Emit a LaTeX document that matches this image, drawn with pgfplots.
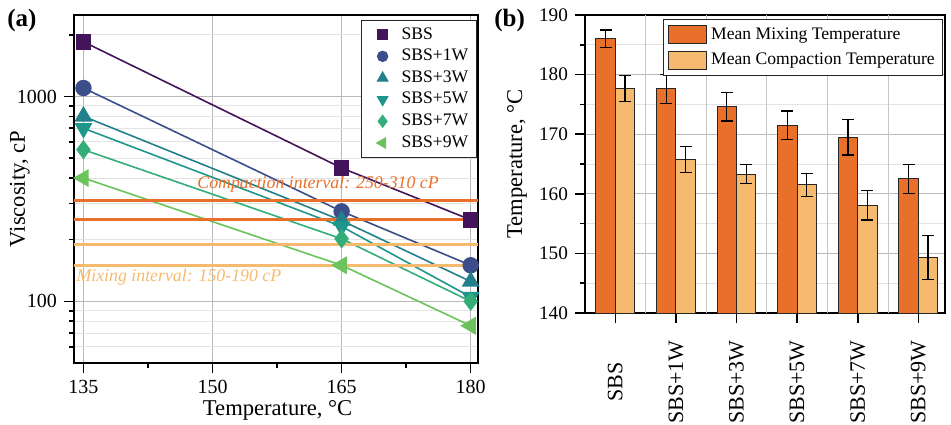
\documentclass[border=0pt]{standalone}
\usepackage{fontspec}
\setmainfont{Liberation Serif}
\usepackage{pgfplots}
\pgfplotsset{compat=1.18}

\definecolor{cS}{HTML}{43145A}
\definecolor{cA}{HTML}{3B4E8A}
\definecolor{cB}{HTML}{21808A}
\definecolor{cC}{HTML}{1F968B}
\definecolor{cD}{HTML}{33AE78}
\definecolor{cE}{HTML}{6CC35C}
\definecolor{cMix}{HTML}{E9702B}
\definecolor{cComp}{HTML}{F6BA6E}

\pgfplotsset{
  common/.style={
    scale only axis,
    axis line style={line width=1pt},
    tick align=outside, tick pos=left,
    major tick length=5pt, minor tick length=2.5pt,
    every tick/.style={black, line width=0.8pt},
    /pgf/number format/assume math mode=true,
    tick label style={font=\fontsize{10}{12}\selectfont},
    label style={font=\fontsize{11.3}{13}\selectfont},
    major grid style={gray!55, line width=0.5pt},
    minor grid style={gray!22, line width=0.5pt},
  }
}

\begin{document}
\begin{tikzpicture}
\useasboundingbox (-37pt,-30.5pt) rectangle (438.5pt,181.5pt);

% (a) viscosity against temperature
\begin{axis}[common,
  name=left, at={(0pt,0pt)}, anchor=south west,
  width=202pt, height=174pt,
  xmin=133.9, xmax=180.85,
  ymode=log, ymin=50, ymax=2500,
  xtick={135,150,165,180},
  minor xtick={142.5,157.5,172.5},
  ytick={100,1000}, yticklabels={100,1000},
  minor ytick={60,70,80,90,200,300,400,500,600,700,800,900,2000},
  xmajorgrids, ymajorgrids, yminorgrids,
  xlabel={Temperature, °C}, ylabel={Viscosity, cP},
  xlabel style={at={(axis description cs:0.504,-0.135)}, anchor=center},
  ylabel style={at={(axis description cs:-0.134,0.5)}, anchor=center},
  legend style={at={(0.997,0.986)}, anchor=north east,
    font=\fontsize{8.8}{10}\selectfont, draw=black!85, line width=0.5pt,
    cells={anchor=west}, row sep=0.5pt, inner sep=2pt,
    nodes={inner ysep=1.5pt, inner xsep=2pt}},
  legend image code/.code={\path[draw=none, fill=none] (0pt,0pt) -- (16pt,0pt);
    \draw[#1] plot coordinates {(8.5pt,0pt)};},
]
\addplot[cS, line width=0.8pt, mark=square*, mark size=3.5pt, mark options={fill=cS}, forget plot]
  coordinates {(135,1850) (165,448) (180,250)};
\addplot[cA, line width=0.8pt, mark=*, mark size=3.7pt, mark options={fill=cA}, forget plot]
  coordinates {(135,1100) (165,275) (180,150)};
\addplot[cB, line width=0.8pt, mark=triangle*, mark size=4.4pt, mark options={fill=cB}, forget plot]
  coordinates {(135,800) (165,248) (180,125)};
\addplot[cC, line width=0.8pt, mark=triangle*, mark size=4.4pt, mark options={fill=cC, rotate=180}, forget plot]
  coordinates {(135,700) (165,232) (180,105)};
\addplot[cD, line width=0.8pt, mark=diamond*, mark size=4.2pt, mark options={fill=cD}, forget plot]
  coordinates {(135,550) (165,202) (180,100)};
\addplot[cE, line width=0.8pt, mark=triangle*, mark size=4.4pt, mark options={fill=cE, rotate=90}, forget plot]
  coordinates {(135,400) (165,150) (180,76)};

% viscosity intervals
\addplot[cMix, line width=1.6pt, forget plot] coordinates {(133,310) (182,310)};
\addplot[cMix, line width=1.6pt, forget plot] coordinates {(133,250) (182,250)};
\addplot[cComp, line width=1.6pt, forget plot] coordinates {(133,190) (182,190)};
\addplot[cComp, line width=1.6pt, forget plot] coordinates {(133,150) (182,150)};

\node[anchor=west, inner sep=0pt, text=cMix, font=\itshape\fontsize{8.9}{10}\selectfont]
  at (axis cs:148.2,375) {Compaction interval: 250-310 cP};
\node[anchor=west, inner sep=0pt, text=cComp, font=\itshape\fontsize{8.9}{10}\selectfont]
  at (axis cs:134.15,130.6) {Mixing interval: 150-190 cP};

\addlegendimage{only marks, mark=square*, cS, mark size=2.4pt}
\addlegendentry{SBS}
\addlegendimage{only marks, mark=*, cA, mark size=2.6pt}
\addlegendentry{SBS+1W}
\addlegendimage{only marks, mark=triangle*, cB, mark size=3pt}
\addlegendentry{SBS+3W}
\addlegendimage{only marks, mark=triangle*, cC, mark size=3pt, mark options={rotate=180}}
\addlegendentry{SBS+5W}
\addlegendimage{only marks, mark=diamond*, cD, mark size=3pt}
\addlegendentry{SBS+7W}
\addlegendimage{only marks, mark=triangle*, cE, mark size=3pt, mark options={rotate=90}}
\addlegendentry{SBS+9W}
\end{axis}

% (b) mean mixing and compaction temperatures
\begin{axis}[common,
  name=right, at={(255.5pt,25pt)}, anchor=south west,
  width=180pt, height=149pt,
  ybar, bar width=0.32,
  xmin=-0.5, xmax=5.44, ymin=140, ymax=190,
  xtick={0,1,2,3,4,5},
  xticklabels={SBS,SBS+1W,SBS+3W,SBS+5W,SBS+7W,SBS+9W},
  xticklabel style={font=\fontsize{11}{13}\selectfont, yshift=-29.5pt, rotate=90, anchor=center},
  extra x ticks={0.5,1.5,2.5,3.5,4.5}, extra x tick labels={},
  extra x tick style={grid=major, major tick length=0pt, major grid style={gray!45, line width=0.5pt}},
  ytick={140,150,160,170,180,190},
  minor ytick={145,155,165,175,185},
  yticklabel style={font=\fontsize{9.6}{11}\selectfont},
  ymajorgrids, yminorgrids,
  ylabel={Temperature, °C},
  ylabel style={at={(axis description cs:-0.189,0.5)}, anchor=center},
  legend style={at={(0.995,0.987)}, anchor=north east,
    font=\fontsize{8.8}{10}\selectfont, draw=black!85, line width=0.5pt,
    cells={anchor=west}, row sep=1.5pt, inner sep=2pt},
  legend image code/.code={\draw[#1, line width=0.6pt] (0pt,-4.5pt) rectangle (19pt,4.5pt);},
]
\addplot[bar shift=-0.16, fill=cMix, draw=black!85, line width=0.5pt,
  error bars/.cd, y dir=both, y explicit,
  error bar style={black, line width=0.6pt},
  error mark options={rotate=90, black, line width=0.6pt, mark size=3pt}]
  coordinates {(0,186.0) +- (0,1.5) (1,177.6) +- (0,2.4) (2,174.6) +- (0,2.4)
               (3,171.5) +- (0,2.4) (4,169.5) +- (0,3.0) (5,162.5) +- (0,2.4)};
\addplot[bar shift=0.16, fill=cComp, draw=black!85, line width=0.5pt,
  error bars/.cd, y dir=both, y explicit,
  error bar style={black, line width=0.6pt},
  error mark options={rotate=90, black, line width=0.6pt, mark size=3pt}]
  coordinates {(0,177.7) +- (0,2.2) (1,165.8) +- (0,2.2) (2,163.3) +- (0,1.6)
               (3,161.5) +- (0,1.9) (4,158.1) +- (0,2.5) (5,149.3) +- (0,3.7)};
\legend{Mean Mixing Temperature, Mean Compaction Temperature}
\end{axis}

\node[anchor=west, inner sep=0pt, font=\bfseries\fontsize{12.5}{14}\selectfont]
  at ([xshift=-33.5pt, yshift=-2.5pt]left.north west) {(a)};
\node[anchor=west, inner sep=0pt, font=\bfseries\fontsize{12.5}{14}\selectfont]
  at ([xshift=-45.5pt, yshift=-2.5pt]right.north west) {(b)};
\end{tikzpicture}
\end{document}
